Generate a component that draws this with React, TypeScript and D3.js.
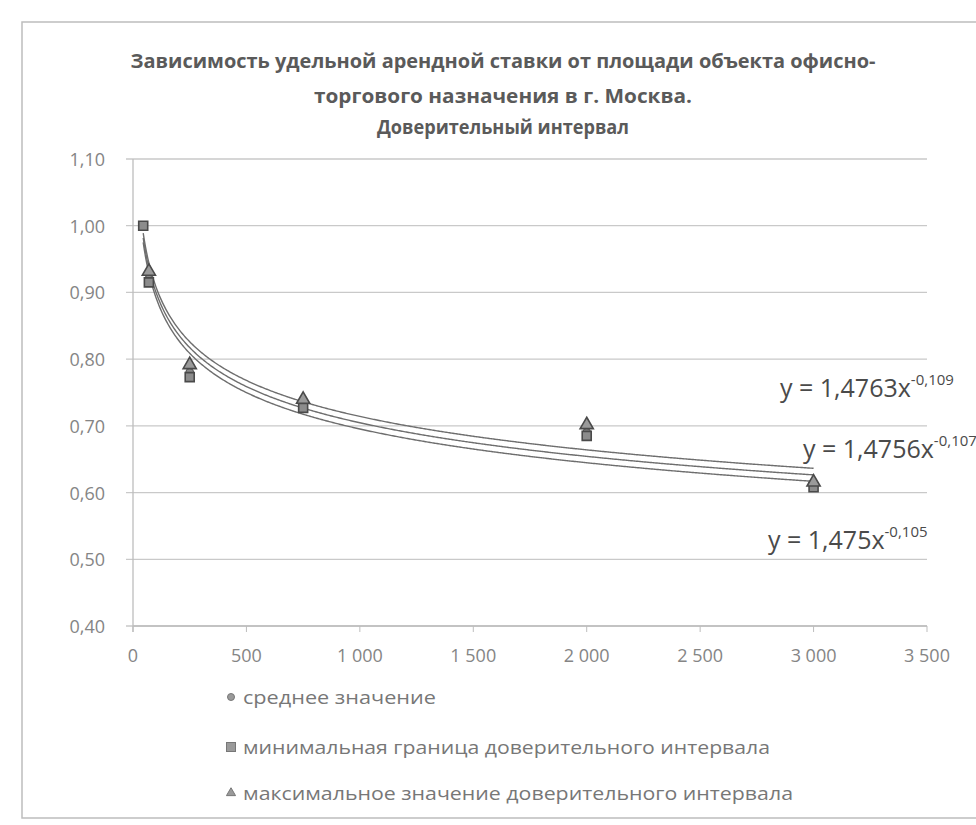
import React from "react";
import * as d3 from "d3";

// площадь объекта, кв. м
const areas = [45, 70, 250, 750, 2000, 3000];
const meanValues: (number | null)[] = [null, 0.92, 0.78, 0.732, 0.69, 0.612];
const minValues: (number | null)[] = [1.0, 0.915, 0.773, 0.727, 0.685, 0.608];
const maxValues: (number | null)[] = [null, 0.93, 0.79, 0.738, 0.7, 0.614];

// trendline equations shown on the chart: y = a * x^b
const trendA = [1.4763, 1.4756, 1.475];
const trendB = [-0.109, -0.107, -0.105];
const trendText = ["y = 1,4763x", "y = 1,4756x", "y = 1,475x"];
const trendPow = ["-0,109", "-0,107", "-0,105"];

const yTicks = [0.4, 0.5, 0.6, 0.7, 0.8, 0.9, 1.0, 1.1];
const xTicks = [0, 500, 1000, 1500, 2000, 2500, 3000, 3500];

const titleLines = [
  "Зависимость удельной арендной ставки от площади объекта офисно-",
  "торгового назначения  в г. Москва.",
  "Доверительный интервал",
];
const legendLabels = [
  "среднее  значение",
  "минимальная граница доверительного интервала",
  "максимальное значение доверительного интервала",
];

const font = "'Open Sans', 'DejaVu Sans', sans-serif";

const App: React.FC = () => {
  const width = 976;
  const height = 825;

  const x = d3.scaleLinear().domain([0, 3500]).range([133, 927]);
  const y = d3.scaleLinear().domain([0.4, 1.1]).range([626, 159]);

  const fmtY = (v: number) => v.toFixed(2).replace(".", ",");
  const fmtX = (v: number) => (v >= 1000 ? d3.format(",")(v).replace(",", " ") : String(v));

  const line = d3.line<number>().x(d => x(d));

  // sample x along the fitted range for the trend curves
  const xs = d3.range(areas[0], areas[areas.length - 1] + 1, 5);

  const triangle = d3.symbol().type(d3.symbolTriangle).size(75)();
  const square = d3.symbol().type(d3.symbolSquare).size(81)();

  const titleWidths = [745, 378, 252];
  const titleY = [68, 103, 134];

  // label positions next to the right ends of the curves
  const eqPos = [
    { x: 780, y: 397 },
    { x: 803, y: 458 },
    { x: 768, y: 549 },
  ];

  const legendY = [697, 747, 793];
  const legendW = [193, 527, 550];

  return (
    <svg
      width={width}
      height={height}
      style={{ position: "absolute", left: 0, top: 0, background: "#fff" }}
    >
      <rect x={22} y={22} width={990} height={796} fill="#fff" stroke="#bdbdbd" strokeWidth={1.5} />

      {titleLines.map((t, i) => (
        <text
          key={i}
          x={503}
          y={titleY[i]}
          textAnchor="middle"
          fontFamily={font}
          fontWeight="bold"
          fontSize={19}
          fill="#5a5a5a"
          textLength={titleWidths[i]}
          lengthAdjust="spacingAndGlyphs"
        >
          {t}
        </text>
      ))}

      {/* gridlines */}
      {yTicks.map(t => (
        <g key={t}>
          <line x1={126} x2={927} y1={y(t)} y2={y(t)} stroke="#c9c9c9" strokeWidth={1.3} />
          <text
            x={105}
            y={y(t) + 7}
            textAnchor="end"
            fontFamily={font}
            fontSize={18}
            fill="#858585"
          >
            {fmtY(t)}
          </text>
        </g>
      ))}

      {/* axes */}
      <line x1={x(0)} x2={x(0)} y1={y(1.1)} y2={y(0.4) + 6} stroke="#bdbdbd" strokeWidth={1.3} />
      <line x1={x(0)} x2={x(3500)} y1={y(0.4)} y2={y(0.4)} stroke="#bdbdbd" strokeWidth={1.3} />
      {xTicks.map(t => (
        <g key={t}>
          <line x1={x(t)} x2={x(t)} y1={y(0.4)} y2={y(0.4) + 6} stroke="#bdbdbd" />
          <text
            x={x(t)}
            y={y(0.4) + 36}
            textAnchor="middle"
            fontFamily={font}
            fontSize={18}
            fill="#858585"
          >
            {fmtX(t)}
          </text>
        </g>
      ))}

      {/* trend curves */}
      {trendA.map((a, i) => (
        <path
          key={i}
          d={line.y(v => y(a * Math.pow(v, trendB[i])))(xs) || ""}
          fill="none"
          stroke="#6e6e6e"
          strokeWidth={1.4}
        />
      ))}

      {/* points */}
      {areas.map((a, i) =>
        meanValues[i] == null ? null : (
          <circle key={"m" + i} cx={x(a)} cy={y(meanValues[i] as number)} r={4} fill="#8a8a8a" stroke="#555" />
        )
      )}
      {areas.map((a, i) =>
        minValues[i] == null ? null : (
          <path
            key={"n" + i}
            d={square || ""}
            transform={`translate(${x(a)},${y(minValues[i] as number)})`}
            fill="#8c8c8c"
            stroke="#4a4a4a"
            strokeWidth={1.6}
          />
        )
      )}
      {areas.map((a, i) =>
        maxValues[i] == null ? null : (
          <path
            key={"x" + i}
            d={triangle || ""}
            transform={`translate(${x(a)},${y(maxValues[i] as number) - 1})`}
            fill="#9a9a9a"
            stroke="#4a4a4a"
            strokeWidth={1.6}
          />
        )
      )}

      {/* equations */}
      {trendText.map((t, i) => (
        <text key={i} x={eqPos[i].x} y={eqPos[i].y} fontFamily={font} fontSize={25} fill="#4a4a4a">
          {t}
          <tspan fontSize={15} dy={-12}>
            {trendPow[i]}
          </tspan>
        </text>
      ))}

      {/* legend */}
      {legendLabels.map((l, i) => (
        <g key={i} transform={`translate(231,${legendY[i]})`}>
          {i === 0 && <circle r={3.5} fill="#9a9a9a" stroke="#777" />}
          {i === 1 && <rect x={-4.5} y={-4.5} width={9} height={9} fill="#9a9a9a" stroke="#777" />}
          {i === 2 && (
            <path d={d3.symbol().type(d3.symbolTriangle).size(36)() || ""} fill="#9a9a9a" stroke="#777" />
          )}
          <text
            x={12}
            y={7}
            fontFamily={font}
            fontSize={19}
            fill="#777"
            textLength={legendW[i]}
            lengthAdjust="spacingAndGlyphs"
          >
            {l}
          </text>
        </g>
      ))}
    </svg>
  );
};

export default App;
